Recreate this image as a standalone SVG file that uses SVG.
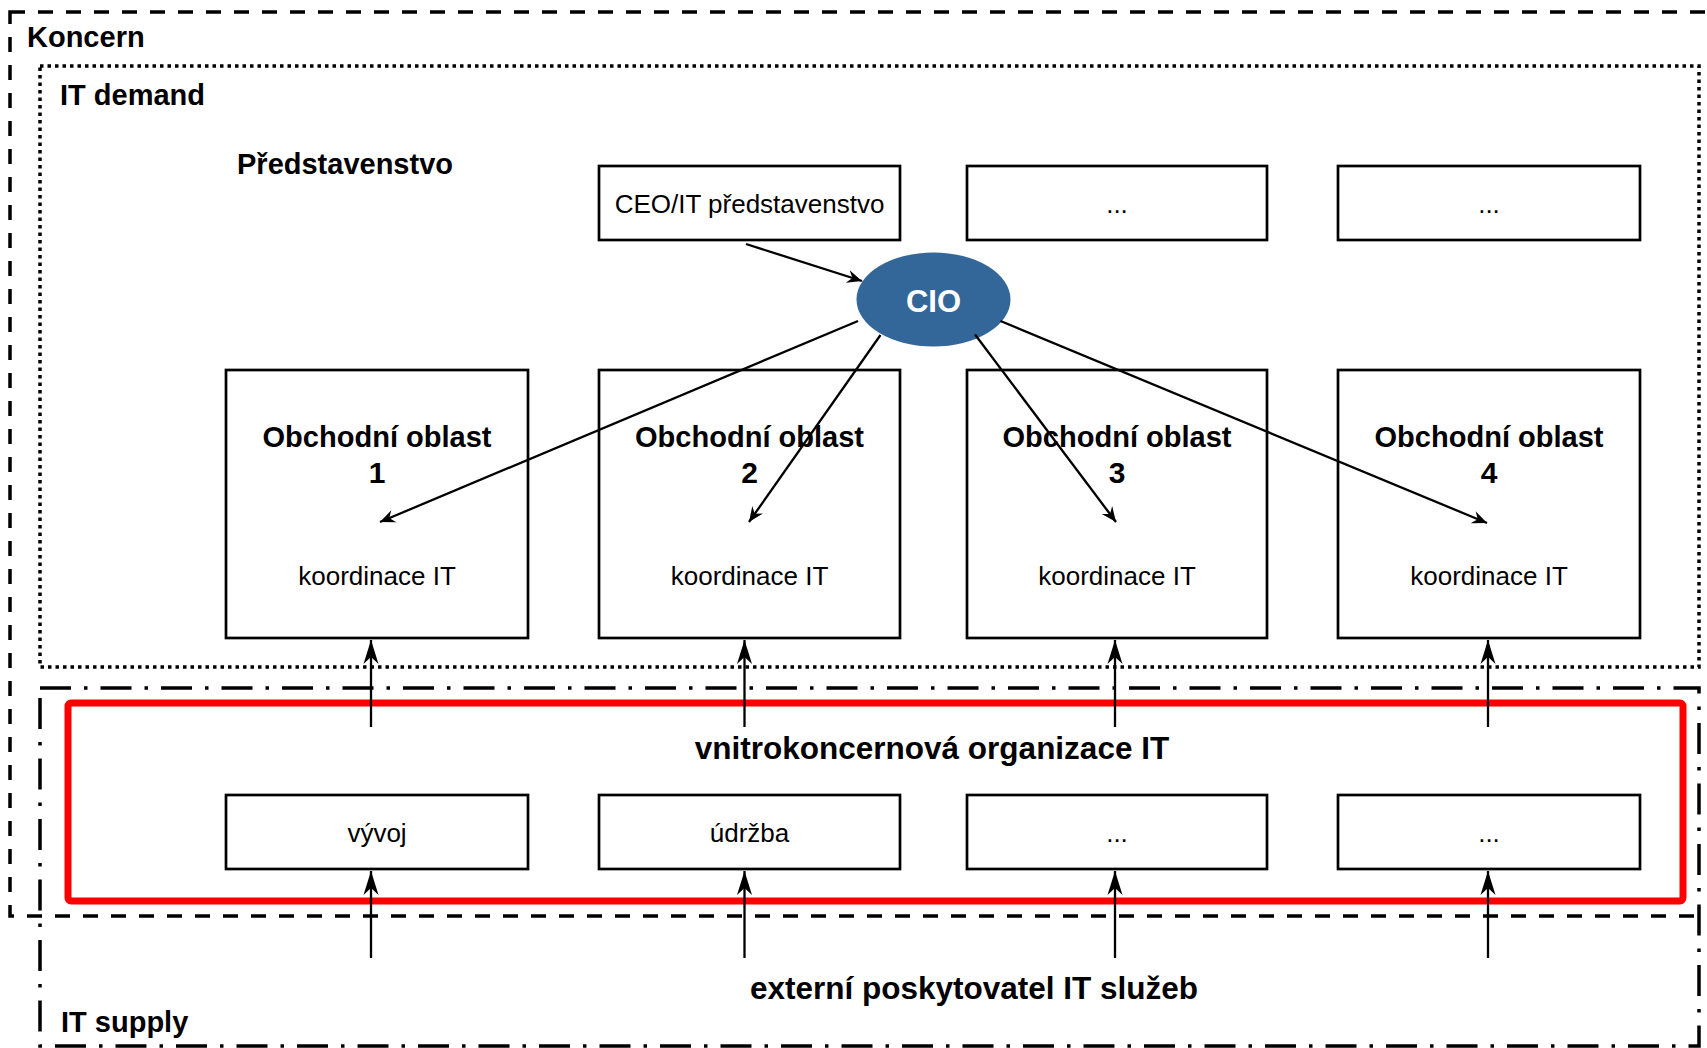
<svg xmlns="http://www.w3.org/2000/svg" width="1707" height="1048" viewBox="0 0 1707 1048">
<defs>
<style>
.box{fill:#fff;stroke:#000;stroke-width:2.7}
.t{font-family:"Liberation Sans",Arial,sans-serif;fill:#000}
.b{font-weight:bold}
.r{font-size:26px}
.m{text-anchor:middle}
.ob{font-size:30px}
.c{stroke:#000;stroke-width:2.3;fill:none}
.frame{fill:none;stroke:#000;stroke-width:3.5}
</style>
<marker id="hl" markerUnits="userSpaceOnUse" viewBox="-25 -8 26 16" markerWidth="26" markerHeight="16" refX="0" refY="0" orient="auto">
<path d="M0,0 L-24,-7.5 L-17,0 L-24,7.5 Z" fill="#000"/>
</marker>
<marker id="hs" markerUnits="userSpaceOnUse" viewBox="-16 -7 17 14" markerWidth="17" markerHeight="14" refX="0" refY="0" orient="auto">
<path d="M0,0 L-15,-6.5 L-10,0 L-15,6.5 Z" fill="#000"/>
</marker>
</defs>
<rect width="1707" height="1048" fill="#fff"/>

<g id="frame-koncern">
<rect class="frame" x="10" y="12" width="1720" height="904" stroke-dasharray="15 13"/>
<text class="t b" x="27" y="47" font-size="29">Koncern</text>
</g>
<g id="frame-it-demand">
<rect class="frame" x="40" y="66" width="1659" height="601" stroke-dasharray="3.5 4"/>
<text class="t b" x="60" y="105" font-size="29">IT demand</text>
<text class="t b m" x="345" y="174" font-size="29">Představenstvo</text>
</g>
<g id="frame-it-supply">
<rect class="frame" x="40" y="688" width="1659" height="358" stroke-dasharray="31 13 3.5 13"/>
<text class="t b" x="61" y="1032" font-size="29">IT supply</text>
<text class="t b m" x="974" y="999" font-size="31.5">externí poskytovatel IT služeb</text>
</g>
<g id="frame-vnitro">
<rect x="68" y="703" width="1615" height="198" rx="3" fill="none" stroke="#f00" stroke-width="7"/>
<text class="t b m" x="932" y="759" font-size="31.5">vnitrokoncernová organizace IT</text>
</g>

<g id="node-ceo">
<rect class="box" x="599" y="166" width="301" height="74"/>
<text class="t r m" x="749.5" y="213">CEO/IT představenstvo</text>
</g>
<g id="node-top2">
<rect class="box" x="967" y="166" width="300" height="74"/>
<text class="t r m" x="1117" y="213">...</text>
</g>
<g id="node-top3">
<rect class="box" x="1338" y="166" width="302" height="74"/>
<text class="t r m" x="1489" y="213">...</text>
</g>

<g id="node-cio">
<ellipse cx="933.5" cy="299.5" rx="77" ry="47" fill="#336699"/>
<text class="t b m" x="933.5" y="312" font-size="31" style="fill:#fff">CIO</text>
</g>

<g id="node-oblast1">
<rect class="box" x="226" y="370" width="302" height="268"/>
<text class="t b m ob" x="377" y="447" textLength="229" lengthAdjust="spacingAndGlyphs">Obchodní oblast</text>
<text class="t b m ob" x="377" y="483">1</text>
<text class="t r m" x="377" y="585">koordinace IT</text>
</g>
<g id="node-oblast2">
<rect class="box" x="599" y="370" width="301" height="268"/>
<text class="t b m ob" x="749.5" y="447" textLength="229" lengthAdjust="spacingAndGlyphs">Obchodní oblast</text>
<text class="t b m ob" x="749.5" y="483">2</text>
<text class="t r m" x="749.5" y="585">koordinace IT</text>
</g>
<g id="node-oblast3">
<rect class="box" x="967" y="370" width="300" height="268"/>
<text class="t b m ob" x="1117" y="447" textLength="229" lengthAdjust="spacingAndGlyphs">Obchodní oblast</text>
<text class="t b m ob" x="1117" y="483">3</text>
<text class="t r m" x="1117" y="585">koordinace IT</text>
</g>
<g id="node-oblast4">
<rect class="box" x="1338" y="370" width="302" height="268"/>
<text class="t b m ob" x="1489" y="447" textLength="229" lengthAdjust="spacingAndGlyphs">Obchodní oblast</text>
<text class="t b m ob" x="1489" y="483">4</text>
<text class="t r m" x="1489" y="585">koordinace IT</text>
</g>

<g id="node-vyvoj">
<rect class="box" x="226" y="795" width="302" height="74"/>
<text class="t r m" x="377" y="842">vývoj</text>
</g>
<g id="node-udrzba">
<rect class="box" x="599" y="795" width="301" height="74"/>
<text class="t r m" x="749.5" y="842">údržba</text>
</g>
<g id="node-bottom3">
<rect class="box" x="967" y="795" width="300" height="74"/>
<text class="t r m" x="1117" y="842">...</text>
</g>
<g id="node-bottom4">
<rect class="box" x="1338" y="795" width="302" height="74"/>
<text class="t r m" x="1489" y="842">...</text>
</g>

<g id="connectors">
<line class="c" x1="746" y1="244" x2="862" y2="281" marker-end="url(#hs)"/>
<line class="c" x1="858" y1="321" x2="380" y2="522" marker-end="url(#hs)"/>
<line class="c" x1="880.5" y1="335" x2="749" y2="522" marker-end="url(#hs)"/>
<line class="c" x1="975" y1="334.5" x2="1116" y2="522" marker-end="url(#hs)"/>
<line class="c" x1="1000.5" y1="321" x2="1487" y2="523" marker-end="url(#hs)"/>
<line class="c" x1="371" y1="727" x2="371" y2="640" marker-end="url(#hl)"/>
<line class="c" x1="744.5" y1="727" x2="744.5" y2="640" marker-end="url(#hl)"/>
<line class="c" x1="1115" y1="727" x2="1115" y2="640" marker-end="url(#hl)"/>
<line class="c" x1="1488" y1="727" x2="1488" y2="640" marker-end="url(#hl)"/>
<line class="c" x1="371" y1="958" x2="371" y2="871" marker-end="url(#hl)"/>
<line class="c" x1="744.5" y1="958" x2="744.5" y2="871" marker-end="url(#hl)"/>
<line class="c" x1="1115" y1="958" x2="1115" y2="871" marker-end="url(#hl)"/>
<line class="c" x1="1488" y1="958" x2="1488" y2="871" marker-end="url(#hl)"/>
</g>
</svg>
